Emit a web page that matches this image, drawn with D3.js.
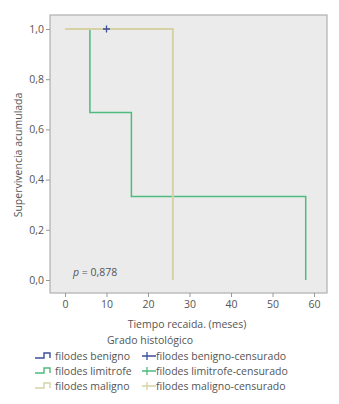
<!DOCTYPE html>
<html>
<head>
<meta charset="utf-8">
<script src="https://cdn.jsdelivr.net/npm/d3@7"></script>
<style>
  body { margin: 0; background: #fff; }
  svg text { font-family: "Open Sans", "Noto Sans", sans-serif; fill: #555; }
</style>
</head>
<body>
<svg id="chart" width="339" height="404"></svg>
<script>
// Data
const xTicks = [0, 10, 20, 30, 40, 50, 60];
const yTicks = [0, 0.2, 0.4, 0.6, 0.8, 1.0];

const benignoTimes = [0, 10];
const benignoSurv = [1, 1];
const benignoCensored = [10];

const limitrofeTimes = [0, 6, 16, 58];
const limitrofeSurv = [1, 0.667, 0.333, 0];

const malignoTimes = [0, 26];
const malignoSurv = [1, 0];

const legendLeft = ["filodes benigno", "filodes limitrofe", "filodes maligno"];
const legendRight = ["filodes benigno-censurado", "filodes limitrofe-censurado", "filodes maligno-censurado"];
const colors = ["#3b4f9c", "#4dbb7e", "#d6d2a6"];

const svg = d3.select("#chart");

const frame = { left: 50, top: 15, right: 327, bottom: 293 };

const x = d3.scaleLinear().domain([0, 60]).range([65, 314]);
const y = d3.scaleLinear().domain([0, 1]).range([280, 29]);

// plot frame
svg.append("rect")
  .attr("x", frame.left)
  .attr("y", frame.top)
  .attr("width", frame.right - frame.left)
  .attr("height", frame.bottom - frame.top)
  .attr("fill", "#ebebeb")
  .attr("stroke", "#b0b0b0")
  .attr("stroke-width", 1.2);

// axes
const yAxis = d3.axisLeft(y).tickValues(yTicks).tickSize(4).tickPadding(2)
  .tickFormat(d => d3.format(".1f")(d).replace(".", ","));
const gy = svg.append("g").attr("transform", `translate(${frame.left},0)`).call(yAxis);

const xAxis = d3.axisBottom(x).tickValues(xTicks).tickSize(4).tickPadding(4);
const gx = svg.append("g").attr("transform", `translate(0,${frame.bottom})`).call(xAxis);

[gy, gx].forEach(g => {
  g.select(".domain").remove();
  g.selectAll(".tick line").attr("stroke", "#999");
  g.selectAll(".tick text").style("font-size", "10.5px").attr("fill", "#555");
});

// survival curves
const line = d3.line().x(d => x(d[0])).y(d => y(d[1])).curve(d3.curveStepAfter);

const curves = [
  { times: limitrofeTimes, surv: limitrofeSurv, color: colors[1], w: 1.5 },
  { times: benignoTimes, surv: benignoSurv, color: colors[0], w: 1 },
  { times: malignoTimes, surv: malignoSurv, color: colors[2], w: 2 }
];

curves.forEach(c => {
  const pts = c.times.map((t, i) => [t, c.surv[i]]);
  svg.append("path")
    .attr("d", line(pts))
    .attr("fill", "none")
    .attr("stroke", c.color)
    .attr("stroke-width", c.w);
});

// censored marks
benignoCensored.forEach(t => {
  const cx = x(t), cy = y(1);
  svg.append("path")
    .attr("d", `M${cx - 3.5},${cy}H${cx + 3.5}M${cx},${cy - 3.5}V${cy + 3.5}`)
    .attr("stroke", colors[0])
    .attr("stroke-width", 1.3);
});

// p value
const pt = svg.append("text").attr("x", 73).attr("y", 276).style("font-size", "10.5px");
pt.append("tspan").style("font-style", "italic").text("p");
pt.append("tspan").text(" = 0,878");

// axis titles
svg.append("text")
  .attr("x", 187).attr("y", 328)
  .attr("text-anchor", "middle")
  .style("font-size", "10.5px")
  .text("Tiempo recaida. (meses)");

svg.append("text")
  .attr("transform", "translate(22,155) rotate(-90)")
  .attr("text-anchor", "middle")
  .style("font-size", "10.5px")
  .text("Supervivencia acumulada");

// legend
svg.append("text")
  .attr("x", 150).attr("y", 344)
  .attr("text-anchor", "middle")
  .style("font-size", "10.5px")
  .text("Grado histológico");

const rowY = [356, 371, 386];

legendLeft.forEach((label, i) => {
  const cy = rowY[i];
  svg.append("path")
    .attr("d", `M35,${cy + 2}H44V${cy - 3}H50V${cy + 2}`)
    .attr("fill", "none")
    .attr("stroke", colors[i])
    .attr("stroke-width", 1.4);
  svg.append("text")
    .attr("x", 55).attr("y", cy + 4)
    .style("font-size", "10.5px")
    .text(label);
});

legendRight.forEach((label, i) => {
  const cy = rowY[i];
  svg.append("path")
    .attr("d", `M142,${cy}H156M147,${cy - 4}V${cy + 4}`)
    .attr("fill", "none")
    .attr("stroke", colors[i])
    .attr("stroke-width", 1.3);
  svg.append("text")
    .attr("x", 156).attr("y", cy + 4)
    .style("font-size", "10.5px")
    .text(label);
});
</script>
</body>
</html>
